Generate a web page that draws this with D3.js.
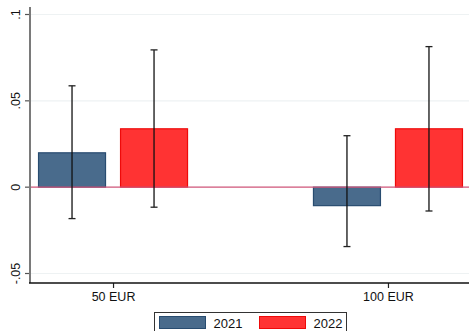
<!DOCTYPE html>
<html>
<head>
<meta charset="utf-8">
<script src="https://cdn.jsdelivr.net/npm/d3@7"></script>
<style>
  html, body { margin: 0; padding: 0; background: #fff; }
  svg { display: block; font-family: "Liberation Sans", Arial, sans-serif; }
</style>
</head>
<body>
<svg id="chart" width="469" height="331"></svg>
<script>
// Categories and series
const categories = ["50 EUR", "100 EUR"];
const seriesNames = ["2021", "2022"];
const values2021 = [0.0199, -0.0107];
const values2022 = [0.0338, 0.0338];
// Confidence interval bounds
const lower2021 = [-0.0182, -0.0344];
const upper2021 = [0.0587, 0.0298];
const lower2022 = [-0.0116, -0.0138];
const upper2022 = [0.0795, 0.0814];
// Y axis ticks
const yTicks = [-0.05, 0, 0.05, 0.1];
const yTickLabels = ["-.05", "0", ".05", ".1"];

const colors = { "2021": "#496b8c", "2022": "#ff3333" };
const strokes = { "2021": "#284c70", "2022": "#ee0a0a" };

const svg = d3.select("#chart");
const plotLeft = 30, plotRight = 471, plotTop = 7, plotBottom = 283;

const x = d3.scalePoint().domain(categories).range([plotLeft, plotRight]).padding(0.302);
const xs = d3.scaleBand().domain(seriesNames).range([-75, 75]).paddingInner(0.171);
const y = d3.scaleLinear().domain([-0.05, 0.1]).range([273.5, 14.5]);

// Faint gridlines
svg.append("g").selectAll("line").data(yTicks).join("line")
  .attr("x1", plotLeft).attr("x2", 469)
  .attr("y1", d => y(d)).attr("y2", d => y(d))
  .attr("stroke", "#eef2f3").attr("stroke-width", 1.2);

const rows = [];
categories.forEach((c, i) => {
  rows.push({ cat: c, s: "2021", v: values2021[i], lo: lower2021[i], hi: upper2021[i] });
  rows.push({ cat: c, s: "2022", v: values2022[i], lo: lower2022[i], hi: upper2022[i] });
});

// Bars
svg.append("g").selectAll("rect").data(rows).join("rect")
  .attr("x", d => x(d.cat) + xs(d.s) + 0.5)
  .attr("width", xs.bandwidth() - 1)
  .attr("y", d => Math.min(y(d.v), y(0)))
  .attr("height", d => Math.abs(y(d.v) - y(0)))
  .attr("fill", d => colors[d.s])
  .attr("stroke", d => strokes[d.s])
  .attr("stroke-width", 1.2);

// Zero reference line
svg.append("line")
  .attr("x1", plotLeft).attr("x2", 469)
  .attr("y1", y(0)).attr("y2", y(0))
  .attr("stroke", "#d4587c").attr("stroke-width", 1.4);

// Error bars with caps
const eb = svg.append("g").selectAll("g").data(rows).join("g")
  .attr("transform", d => `translate(${x(d.cat) + xs(d.s) + xs.bandwidth() / 2},0)`);
eb.append("line")
  .attr("x1", 0).attr("x2", 0)
  .attr("y1", d => y(d.hi)).attr("y2", d => y(d.lo))
  .attr("stroke", "#111").attr("stroke-width", 1.3);
eb.append("line")
  .attr("x1", -3.5).attr("x2", 3.5)
  .attr("y1", d => y(d.hi)).attr("y2", d => y(d.hi))
  .attr("stroke", "#222").attr("stroke-width", 1.3);
eb.append("line")
  .attr("x1", -3.5).attr("x2", 3.5)
  .attr("y1", d => y(d.lo)).attr("y2", d => y(d.lo))
  .attr("stroke", "#222").attr("stroke-width", 1.3);

// Y axis
const yAxis = d3.axisLeft(y).tickValues(yTicks)
  .tickFormat((d, i) => yTickLabels[i]).tickSize(5).tickPadding(9);
const gy = svg.append("g").attr("transform", `translate(${plotLeft},0)`).call(yAxis);
gy.select(".domain").remove();
gy.append("line").attr("x1", 0).attr("x2", 0).attr("y1", plotTop).attr("y2", plotBottom)
  .attr("stroke", "#7a7a7a").attr("stroke-width", 2);
gy.selectAll(".tick").attr("transform", null);
gy.selectAll(".tick line").attr("stroke", "#555").attr("stroke-width", 1.2)
  .attr("y1", d => y(d)).attr("y2", d => y(d));
gy.selectAll(".tick text")
  .attr("fill", "#111").attr("font-size", 12.5)
  .attr("text-anchor", "middle")
  .attr("x", -14).attr("y", d => y(d)).attr("dy", "0.35em")
  .attr("transform", d => `rotate(-90, -14, ${y(d)})`);

// X axis
const xAxis = d3.axisBottom(x).tickSize(5).tickPadding(4);
const gx = svg.append("g").attr("transform", `translate(0,${plotBottom})`).call(xAxis);
gx.select(".domain").remove();
gx.append("line").attr("x1", plotLeft - 1).attr("x2", 469).attr("y1", 0).attr("y2", 0)
  .attr("stroke", "#111").attr("stroke-width", 1.5);
gx.selectAll(".tick line").attr("stroke", "#222").attr("stroke-width", 1.2);
gx.selectAll(".tick text").attr("fill", "#111").attr("font-size", 12.5);

// Legend
const lg = svg.append("g");
lg.append("rect").attr("x", 154.5).attr("y", 312.5).attr("width", 192).attr("height", 24)
  .attr("fill", "#fff").attr("stroke", "#333").attr("stroke-width", 1);
const items = lg.selectAll("g.item").data(seriesNames).join("g")
  .attr("class", "item")
  .attr("transform", (d, i) => `translate(${159.5 + i * 100},316.5)`);
items.append("rect").attr("width", 46).attr("height", 12)
  .attr("fill", d => colors[d]).attr("stroke", d => strokes[d]).attr("stroke-width", 1);
items.append("text").attr("x", 54).attr("y", 11.5)
  .attr("font-size", 13).attr("fill", "#111").text(d => d);
</script>
</body>
</html>
